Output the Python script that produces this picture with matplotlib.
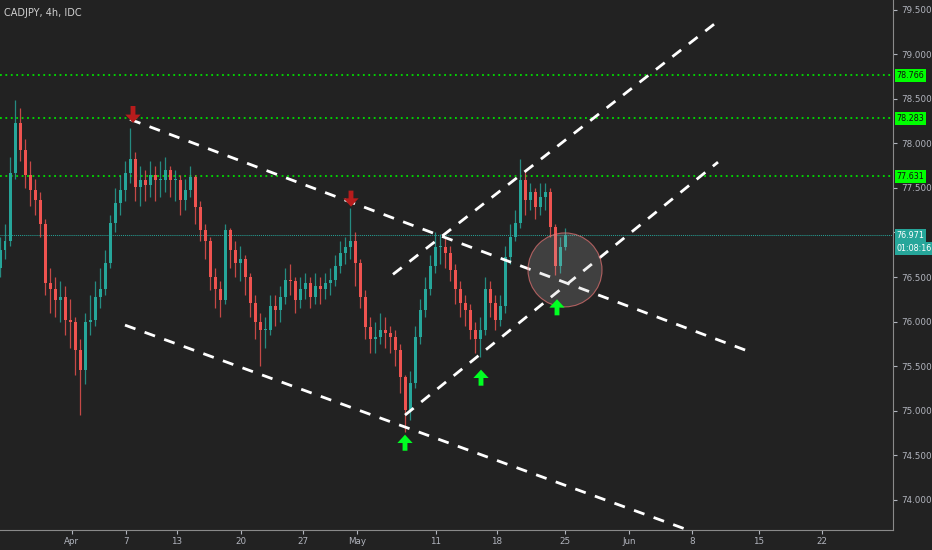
import matplotlib
matplotlib.use("Agg")
import matplotlib.pyplot as plt
from matplotlib.patches import Ellipse, Rectangle

closes = [76.80,76.91,77.67,78.23,77.93,77.65,77.48,77.37,77.09,76.43,
          76.36,76.24,76.28,76.02,75.99,75.68,75.46,75.99,76.02,76.28,
          76.36,76.66,77.11,77.33,77.48,77.67,77.82,77.51,77.59,77.53,
          77.65,77.59,77.59,77.70,77.59,77.59,77.37,77.48,77.62,77.29,
          77.03,76.91,76.50,76.36,76.24,77.03,76.80,76.66,76.70,76.50,
          76.21,75.99,75.91,75.91,76.17,76.13,76.28,76.47,76.45,76.24,
          76.36,76.43,76.28,76.40,76.36,76.43,76.47,76.62,76.77,76.84,
          76.91,76.66,76.28,75.94,75.80,75.83,75.91,75.87,75.83,75.68,
          75.38,75.01,75.31,75.83,76.13,76.36,76.62,76.84,76.84,76.77,
          76.58,76.36,76.21,76.13,75.91,75.80,75.91,76.36,76.21,76.02,
          76.17,76.73,76.95,77.11,77.59,77.37,77.45,77.29,77.40,77.45,
          77.06,76.62,76.84,76.97]
highs = [76.95,77.10,77.85,78.49,78.40,78.05,77.80,77.60,77.45,77.15,
         76.60,76.50,76.45,76.40,76.25,76.05,75.80,76.10,76.30,76.45,
         76.60,76.80,77.20,77.50,77.65,77.80,78.17,77.90,77.75,77.70,
         77.80,77.75,77.80,77.85,77.75,77.70,77.65,77.60,77.75,77.65,
         77.35,77.10,76.95,76.60,76.45,77.10,77.05,76.90,76.85,76.75,
         76.55,76.30,76.10,76.05,76.30,76.30,76.40,76.60,76.65,76.50,
         76.50,76.55,76.50,76.55,76.50,76.55,76.60,76.75,76.90,76.95,
         77.27,77.00,76.70,76.35,76.05,76.00,76.10,76.05,75.95,75.90,
         75.75,75.40,75.45,75.95,76.25,76.50,76.75,77.00,76.98,76.95,
         76.85,76.65,76.45,76.30,76.20,76.00,76.05,76.50,76.45,76.30,
         76.30,76.85,77.10,77.25,77.83,77.70,77.55,77.50,77.55,77.55,
         77.50,77.10,76.95,77.05]
lows = [76.50,76.70,76.85,77.60,77.80,77.50,77.30,77.20,76.95,76.30,
        76.10,76.05,76.00,75.85,75.70,75.40,74.95,75.30,75.85,75.95,
        76.15,76.30,76.60,77.00,77.20,77.35,77.55,77.35,77.30,77.35,
        77.40,77.35,77.40,77.45,77.40,77.35,77.20,77.25,77.40,77.10,
        76.90,76.70,76.35,76.15,76.05,76.20,76.60,76.50,76.45,76.30,
        76.05,75.80,75.50,75.70,75.85,75.95,76.00,76.20,76.30,76.10,
        76.15,76.25,76.15,76.20,76.20,76.25,76.30,76.40,76.55,76.65,
        76.70,76.40,76.15,75.80,75.65,75.65,75.75,75.70,75.65,75.50,
        75.20,74.76,74.90,75.25,75.75,76.05,76.30,76.55,76.65,76.60,
        76.45,76.20,76.05,75.95,75.80,75.65,75.60,75.85,76.05,75.90,
        75.95,76.10,76.65,76.90,77.05,77.20,77.25,77.15,77.20,77.25,
        76.95,76.52,76.55,76.80]
first_open = 76.60

level_lines = [78.766, 78.283, 77.631]
last_price = 76.971
countdown = "01:08:16"
ytick_vals = [74.0,74.5,75.0,75.5,76.0,76.5,77.0,77.5,78.0,78.5,79.0,79.5]
date_labels = ["Apr","7","13","20","27","May","11","18","25","Jun","8","15","22"]
date_pos = [14.4,25.2,35.4,48.2,60.6,71.4,87.2,99.4,113,125.8,138.4,151.8,164.4]
trendlines = [((26,78.27),(150,75.66)), ((25,75.96),(137.6,73.66)),
              ((78.6,76.53),(144,79.39)), ((81,74.95),(143.6,77.79))]
red_arrows = [(26.6,78.23,78.42),(70.2,77.29,77.47)]
green_arrows = [(81,74.73,74.55),(96.2,75.46,75.28),(111.4,76.25,76.07)]

BG = "#222222"
UP, DN = "#26a69a", "#ef5350"
fig = plt.figure(figsize=(9.32,5.5), dpi=100, facecolor=BG)
ax = fig.add_axes([0, 20/550, 893/932, 530/550], facecolor=BG)
ax.set_xlim(0, 178.6)
ax.set_ylim(73.66, 79.61)

opens = [first_open] + closes[:-1]
for i,(o,c,h,l) in enumerate(zip(opens,closes,highs,lows)):
    col = UP if c >= o else DN
    ax.vlines(i, l, h, color=col, lw=0.9, alpha=0.8, zorder=2)
    ax.add_patch(Rectangle((i-0.3, min(o,c)), 0.6, max(abs(c-o),0.01),
                           color=col, zorder=3, lw=0))

def label(y, s, fc, tc):
    ax.text(1.004, y, s, transform=ax.get_yaxis_transform(), va="center",
            ha="left", fontsize=5.8, color=tc,
            bbox=dict(boxstyle="square,pad=0.25", fc=fc, ec="none"), clip_on=False)

for lv in level_lines:
    ax.axhline(lv, color="#00e000", ls=(0,(1,2)), lw=1.3, zorder=1)
    label(lv, f"{lv:.3f}", "#00ff00", "#111111")
ax.axhline(last_price, color="#26a69a", ls=(0,(1,1)), lw=0.7, zorder=1)
label(last_price, f"{last_price:.3f}", "#26a69a", "white")
label(last_price-0.15, countdown, "#26a69a", "white")

for (x0,y0),(x1,y1) in trendlines:
    ax.plot([x0,x1],[y0,y1], color="white", lw=2, ls=(0,(4,3.5)), zorder=4)

ax.add_patch(Ellipse((113,76.58), 14.8, 0.83, fc="#bbbbbb", alpha=0.2, ec="none", zorder=5))
ax.add_patch(Ellipse((113,76.58), 14.8, 0.83, fc="none", ec="#e57373", lw=0.8, alpha=0.7, zorder=5))

for arrows, col in [(red_arrows, "#b71c1c"), (green_arrows, "#00ff22")]:
    for x,tip,tail in arrows:
        ax.annotate("", xy=(x,tip), xytext=(x,tail),
                    arrowprops=dict(width=3.5, headwidth=11, headlength=6,
                                    color=col, lw=0, shrink=0), zorder=6)

ax.yaxis.tick_right()
ax.set_yticks(ytick_vals)
# the 77.000 label is hidden behind the last-price box, as in the reference
ax.set_yticklabels(["" if abs(v - last_price) < 0.1 else f"{v:.3f}" for v in ytick_vals])
ax.set_xticks(date_pos)
ax.set_xticklabels(date_labels)
ax.tick_params(colors="#b2b5be", labelsize=6.3, length=3)
ax.tick_params(axis="y", pad=3)
ax.tick_params(axis="x", pad=2)
for s in ["left","top"]:
    ax.spines[s].set_visible(False)
for s in ["right","bottom"]:
    ax.spines[s].set_color("#8a8a8a")
ax.text(0.005, 0.985, "CADJPY, 4h, IDC", transform=ax.transAxes, ha="left", va="top",
        fontsize=7, color="#d0d0d0")
fig.savefig("out.png", dpi=100, facecolor=BG)
